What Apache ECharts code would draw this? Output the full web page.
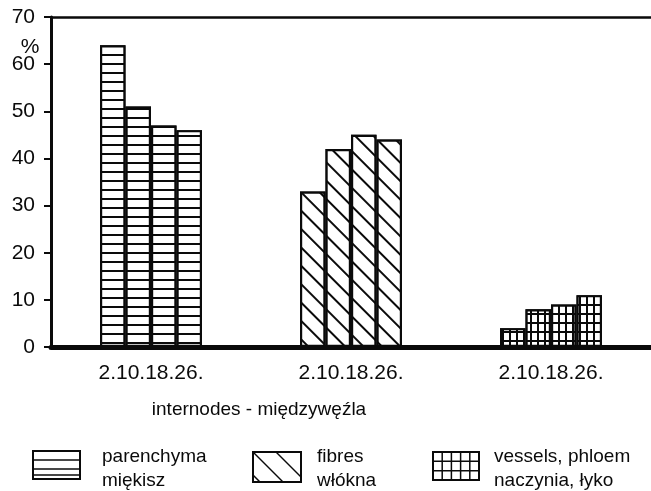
<!DOCTYPE html>
<html>
<head>
<meta charset="utf-8">
<script src="https://cdn.jsdelivr.net/npm/echarts@6/dist/echarts.min.js"></script>
<style>html,body{margin:0;padding:0;background:#fff}#c{width:651px;height:491px}</style>
</head>
<body>
<div id="c"></div>
<script>
// ---- data ----
const tissues = ['parenchyma', 'fibres', 'vessels'];
const tickLabels = ['2.10.18.26.', '2.10.18.26.', '2.10.18.26.'];
const internodes = ['2', '10', '18', '26'];
const internode2 = [64, 33, 4];
const internode10 = [51, 42, 8];
const internode18 = [47, 45, 9];
const internode26 = [46, 44, 11];
const yTicks = [0, 10, 20, 30, 40, 50, 60, 70];
const axisTitle = 'internodes - międzywęźla';
const legendLine1 = ['parenchyma', 'fibres', 'vessels, phloem'];
const legendLine2 = ['miękisz', 'włókna', 'naczynia, łyko'];

const FONT = '"Liberation Sans", Arial, Helvetica, sans-serif';
const INK = '#0a0a0a';

const decals = [
  { symbol: 'rect', symbolSize: 1, color: INK, backgroundColor: '#fff', dashArrayX: [1, 0], dashArrayY: [2, 7] },
  { symbol: 'rect', symbolSize: 1, color: INK, backgroundColor: '#fff', dashArrayX: [1, 0], dashArrayY: [2, 11], rotation: Math.PI / 4 },
  { symbol: 'rect', symbolSize: 1, color: '#fff', backgroundColor: INK, dashArrayX: [5, 2], dashArrayY: [7, 2] }
];

const seriesValues = [internode2, internode10, internode18, internode26];
const series = seriesValues.map((vals, si) => ({
  type: 'bar',
  name: internodes[si],
  barWidth: 25.5,
  barGap: '0%',
  data: vals.map((v, gi) => ({
    value: v,
    itemStyle: { color: '#fff', borderColor: INK, borderWidth: 2.2, decal: decals[gi] }
  }))
}));

const chart = echarts.init(document.getElementById('c'), null, { renderer: 'canvas' });

// legend graphics
const g = [];
function line(x1, y1, x2, y2, w) {
  g.push({ type: 'line', shape: { x1, y1, x2, y2 }, style: { stroke: INK, lineWidth: w || 1.5 }, silent: true });
}
function box(x, y, w, h) {
  g.push({ type: 'rect', shape: { x, y, width: w, height: h }, style: { fill: '#fff', stroke: INK, lineWidth: 2 }, silent: true });
}
// box 1: horizontal lines
box(33, 451, 47, 28);
line(33, 460, 80, 460); line(33, 469, 80, 469); line(33, 475, 80, 475);
// box 2: diagonals
box(253, 452, 48, 30);
line(253, 452, 283, 482); line(276, 452, 301, 477); line(253, 475, 260, 482);
// box 3: grid
box(433, 452, 46, 28);
for (let k = 1; k < 5; k++) line(433 + k * 9.2, 452, 433 + k * 9.2, 480);
for (let k = 1; k < 3; k++) line(433, 452 + k * 9.33, 479, 452 + k * 9.33);
const legendX = [102, 317, 494];
for (let i = 0; i < 3; i++) {
  g.push({ type: 'text', x: legendX[i], y: 457, style: { text: legendLine1[i], font: '19px ' + FONT, fill: INK, textVerticalAlign: 'middle', verticalAlign: 'middle' }, silent: true });
  g.push({ type: 'text', x: legendX[i], y: 481, style: { text: legendLine2[i], font: '19px ' + FONT, fill: INK, textVerticalAlign: 'middle', verticalAlign: 'middle' }, silent: true });
}
g.push({ type: 'text', x: 30, y: 47, style: { text: '%', font: '21px ' + FONT, fill: INK, align: 'center', verticalAlign: 'middle', textAlign: 'center', textVerticalAlign: 'middle' }, silent: true });
g.push({ type: 'text', x: 259, y: 410, style: { text: axisTitle, font: '19px ' + FONT, fill: INK, align: 'center', verticalAlign: 'middle', textAlign: 'center', textVerticalAlign: 'middle' }, silent: true });

chart.setOption({
  animation: false,
  backgroundColor: '#fff',
  grid: { left: 51, right: -3, top: 17, bottom: 144, containLabel: false },
  xAxis: [
    {
      type: 'category', data: tissues, position: 'bottom',
      axisLine: { show: true, onZero: false, lineStyle: { color: INK, width: 5 } },
      axisTick: { show: false },
      axisLabel: { fontSize: 21, fontFamily: FONT, color: INK, margin: 16, formatter: (v, i) => tickLabels[i] },
      splitLine: { show: false }
    },
    {
      type: 'category', data: tissues, position: 'top',
      axisLine: { show: true, onZero: false, lineStyle: { color: INK, width: 2.5 } },
      axisTick: { show: false }, axisLabel: { show: false }, splitLine: { show: false }
    }
  ],
  yAxis: {
    type: 'value', min: yTicks[0], max: yTicks[yTicks.length - 1], interval: yTicks[1] - yTicks[0],
    axisLine: { show: true, lineStyle: { color: INK, width: 3 } },
    axisTick: { show: true, inside: false, length: 7, lineStyle: { color: INK, width: 2 } },
    axisLabel: { fontSize: 21, fontFamily: FONT, color: INK, margin: 16 },
    splitLine: { show: false }
  },
  series: series,
  graphic: g
});
</script>
</body>
</html>
